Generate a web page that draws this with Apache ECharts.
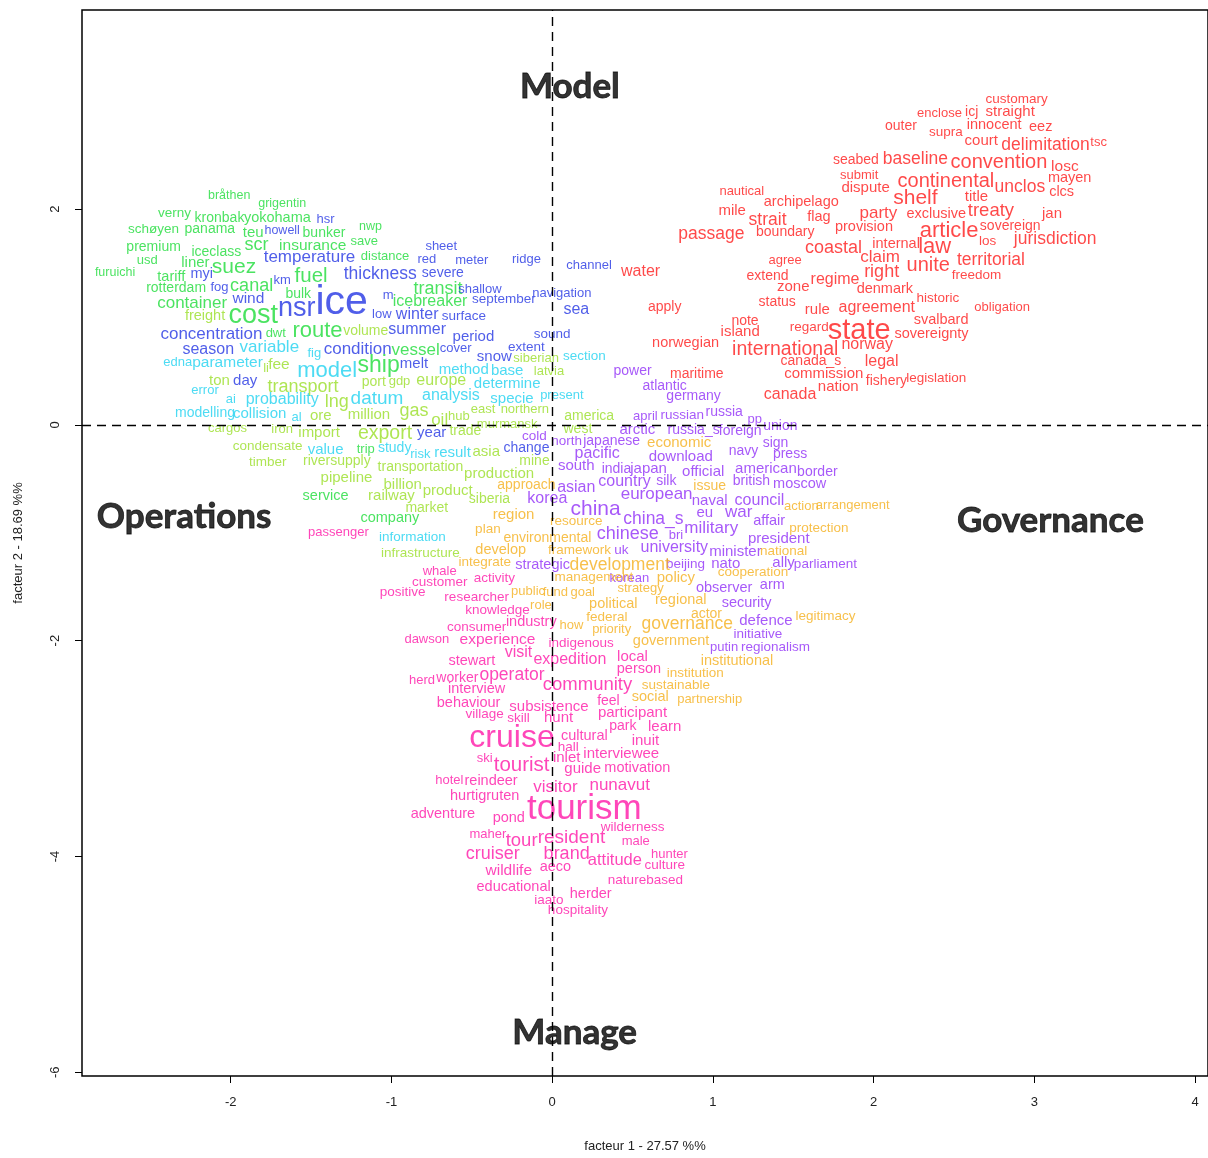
<!DOCTYPE html>
<html>
<head>
<meta charset="utf-8">
<script src="https://cdn.jsdelivr.net/npm/echarts@6/dist/echarts.min.js"></script>
<style>
html,body{margin:0;padding:0;background:#fff;overflow:hidden;}
#chart{width:1208px;height:1158px;}
</style>
</head>
<body>
<div id="chart"></div>
<script>
// ---- DATA: [word, factor1, factor2, weight] per cluster ----
const green = [
 ["bråthen",-2.01,2.13,12.5],["grigentin",-1.68,2.05,12.5],["verny",-2.35,1.96,13.5],["kronbak",-2.07,1.92,14],
 ["yokohama",-1.71,1.92,14.5],["nwp",-1.13,1.84,12.5],["schøyen",-2.48,1.81,13.5],["panama",-2.13,1.81,14],
 ["teu",-1.86,1.78,15],["bunker",-1.42,1.78,14],["save",-1.17,1.70,13],["premium",-2.48,1.65,14],
 ["iceclass",-2.09,1.60,14],["scr",-1.84,1.67,18],["insurance",-1.49,1.66,15.5],["usd",-2.52,1.52,13],
 ["liner",-2.22,1.50,15],["distance",-1.04,1.56,13],["furuichi",-2.72,1.41,12.5],["tariff",-2.37,1.37,14.5],
 ["suez",-1.98,1.46,21],["fuel",-1.50,1.38,20.5],["transit",-0.71,1.26,18],["rotterdam",-2.34,1.27,14],
 ["canal",-1.87,1.29,18],["bulk",-1.58,1.21,14],["icebreaker",-0.76,1.14,16],["container",-2.24,1.13,17],
 ["cost",-1.86,1.01,27],["dwt",-1.72,0.85,13],["route",-1.46,0.87,22],["vessel",-0.85,0.69,17],
 ["ship",-1.08,0.55,23],["trip",-1.16,-0.23,13],["service",-1.41,-0.66,14.5],["company",-1.01,-0.86,14.5]
];
const lime = [
 ["freight",-2.16,1.01,14.5],["volume",-1.16,0.87,14],["li",-1.78,0.52,13],["fee",-1.70,0.56,15.5],
 ["siberian",-0.10,0.62,13],["latvia",-0.02,0.50,13],["ton",-2.07,0.41,15],["transport",-1.55,0.35,18],
 ["port",-1.11,0.40,14],["gdp",-0.95,0.40,13],["europe",-0.69,0.41,16],["lng",-1.34,0.21,18],
 ["ore",-1.44,0.08,15],["million",-1.14,0.09,15],["gas",-0.86,0.13,18],["hub",-0.58,0.08,13],
 ["oil",-0.70,0.04,17],["east",-0.43,0.14,13],["northern",-0.17,0.14,13],["america",0.23,0.08,14],
 ["cargos",-2.02,-0.03,13],["iron",-1.68,-0.04,13],["import",-1.45,-0.07,15],["export",-1.04,-0.08,19.5],
 ["trade",-0.54,-0.06,14],["murmansk",-0.28,0.00,13],["west",0.16,-0.04,14],["condensate",-1.77,-0.20,13.5],
 ["timber",-1.77,-0.35,13.5],["riversupply",-1.34,-0.34,14],["transportation",-0.82,-0.39,14],["asia",-0.41,-0.25,15],
 ["mine",-0.11,-0.34,14],["pipeline",-1.28,-0.49,15],["production",-0.33,-0.45,15],["billion",-0.93,-0.56,15],
 ["product",-0.65,-0.61,15],["railway",-1.00,-0.66,15],["siberia",-0.39,-0.69,14],["market",-0.78,-0.77,14],
 ["infrastructure",-0.82,-1.19,13.5]
];
const cyan = [
 ["variable",-1.76,0.72,17],["fig",-1.48,0.66,13],["section",0.20,0.64,13.5],["edna",-2.33,0.58,13],
 ["parameter",-2.02,0.58,15.5],["model",-1.40,0.50,22],["method",-0.55,0.51,15],["base",-0.28,0.50,15],
 ["error",-2.16,0.32,13],["determine",-0.28,0.38,15],["ai",-2.00,0.24,13],["probability",-1.68,0.23,16],
 ["datum",-1.09,0.24,19],["analysis",-0.63,0.27,16],["specie",-0.25,0.24,15],["present",0.06,0.27,13],
 ["modelling",-2.16,0.11,14],["collision",-1.82,0.10,15],["al",-1.59,0.07,13],["value",-1.41,-0.23,15],
 ["study",-0.98,-0.22,14],["risk",-0.82,-0.27,13],["result",-0.62,-0.26,15],["information",-0.87,-1.04,13.5]
];
const blue = [
 ["hsr",-1.41,1.90,13],["howell",-1.68,1.80,12.5],["sheet",-0.69,1.65,13],["temperature",-1.51,1.55,17],
 ["red",-0.78,1.53,13],["meter",-0.50,1.52,13],["ridge",-0.16,1.53,13],["channel",0.23,1.48,13],
 ["myi",-2.18,1.40,14.5],["km",-1.68,1.34,13],["thickness",-1.07,1.40,17.5],["severe",-0.68,1.41,14],
 ["shallow",-0.45,1.26,13],["navigation",0.06,1.22,13],["fog",-2.07,1.27,13],["wind",-1.89,1.17,15.5],
 ["ice",-1.31,1.13,41],["m",-1.02,1.20,13],["september",-0.30,1.16,13.5],["sea",0.15,1.07,16],
 ["nsr",-1.59,1.08,27],["low",-1.06,1.02,13],["winter",-0.84,1.02,16],["surface",-0.55,1.01,13.5],
 ["concentration",-2.12,0.84,17],["summer",-0.84,0.88,16],["period",-0.49,0.82,15],["sound",0.00,0.84,13.5],
 ["season",-2.14,0.70,16],["condition",-1.21,0.70,17],["cover",-0.60,0.71,13],["extent",-0.16,0.72,13.5],
 ["melt",-0.86,0.57,15],["snow",-0.36,0.63,15],["day",-1.91,0.41,15],["year",-0.75,-0.07,15],
 ["change",-0.16,-0.22,14]
];
const purple = [
 ["power",0.50,0.50,14],["atlantic",0.70,0.36,14],["germany",0.88,0.27,14],["april",0.58,0.08,13],
 ["russian",0.81,0.09,13.5],["russia",1.07,0.12,14],["pp",1.26,0.05,13],["union",1.42,-0.01,14],
 ["arctic",0.53,-0.05,15],["russia_s",0.88,-0.05,14],["foreign",1.17,-0.06,14],["cold",-0.11,-0.11,13.5],
 ["north",0.09,-0.15,13.5],["japanese",0.37,-0.15,14],["sign",1.39,-0.17,14],["navy",1.19,-0.24,14],
 ["press",1.48,-0.27,14],["pacific",0.28,-0.27,16],["download",0.80,-0.30,15],["south",0.15,-0.38,15],
 ["india",0.40,-0.41,14],["japan",0.60,-0.41,15],["official",0.94,-0.44,15],["american",1.33,-0.41,15],
 ["border",1.65,-0.44,14],["country",0.45,-0.53,16],["silk",0.71,-0.52,14],["british",1.24,-0.52,14],
 ["moscow",1.54,-0.55,14.5],["asian",0.15,-0.58,16],["korea",-0.03,-0.68,16],["european",0.65,-0.64,17],
 ["naval",0.98,-0.70,15],["council",1.29,-0.70,16],["china",0.27,-0.78,21],["eu",0.95,-0.82,15],
 ["war",1.16,-0.81,17],["affair",1.35,-0.89,14.5],["china_s",0.63,-0.87,17.5],["military",0.99,-0.96,17],
 ["chinese",0.47,-1.01,18],["bri",0.77,-1.02,13],["president",1.41,-1.06,15],["uk",0.43,-1.16,13.5],
 ["university",0.76,-1.14,16],["minister",1.14,-1.18,15],["strategic",-0.06,-1.30,14.5],["beijing",0.83,-1.29,13.5],
 ["nato",1.08,-1.29,15],["ally",1.44,-1.28,15],["parliament",1.70,-1.29,13.5],["korean",0.48,-1.42,13],
 ["observer",1.07,-1.51,14.5],["arm",1.37,-1.48,14.5],["security",1.21,-1.65,14.5],["defence",1.33,-1.82,15],
 ["initiative",1.28,-1.94,13.5],["putin",1.07,-2.06,13],["regionalism",1.39,-2.06,13.5]
];
const orange = [
 ["economic",0.79,-0.17,15],["approach",-0.16,-0.56,14],["issue",0.98,-0.57,14],["action",1.55,-0.76,13],
 ["arrangement",1.87,-0.75,13],["region",-0.24,-0.83,15],["resource",0.15,-0.89,13.5],["protection",1.66,-0.96,13.5],
 ["plan",-0.40,-0.97,13.5],["environmental",-0.03,-1.05,14],["framework",0.17,-1.16,13.5],["national",1.44,-1.17,13.5],
 ["develop",-0.32,-1.16,14.5],["integrate",-0.42,-1.27,13.5],["development",0.42,-1.30,17.5],["management",0.26,-1.41,13.5],
 ["policy",0.77,-1.42,15],["cooperation",1.25,-1.37,13.5],["public",-0.15,-1.54,13],["fund",0.02,-1.55,13],
 ["goal",0.19,-1.55,13],["strategy",0.55,-1.52,13],["regional",0.80,-1.62,14.5],["role",-0.07,-1.67,13],
 ["political",0.38,-1.66,14.5],["actor",0.96,-1.75,14],["federal",0.34,-1.78,13.5],["legitimacy",1.70,-1.77,13.5],
 ["how",0.12,-1.86,13],["governance",0.84,-1.85,17.5],["priority",0.37,-1.90,13],["government",0.74,-2.00,14.5],
 ["institutional",1.15,-2.19,14.5],["institution",0.89,-2.30,13.5],["sustainable",0.77,-2.41,13.5],["social",0.61,-2.52,14.5],
 ["partnership",0.98,-2.54,13]
];
const pink = [
 ["passenger",-1.33,-1.00,13],["whale",-0.70,-1.36,13],["activity",-0.36,-1.42,13.5],["customer",-0.70,-1.46,13.5],
 ["positive",-0.93,-1.55,13.5],["researcher",-0.47,-1.60,13.5],["knowledge",-0.34,-1.72,13.5],["industry",-0.13,-1.83,14.5],
 ["consumer",-0.47,-1.88,13.5],["dawson",-0.78,-1.99,13],["experience",-0.34,-1.99,15.5],["indigenous",0.18,-2.02,13.5],
 ["visit",-0.21,-2.11,16],["stewart",-0.50,-2.19,14.5],["expedition",0.11,-2.18,16],["local",0.50,-2.15,15],
 ["person",0.54,-2.26,14.5],["herd",-0.81,-2.37,13],["worker",-0.59,-2.35,14],["operator",-0.25,-2.32,17.5],
 ["community",0.22,-2.41,18.5],["interview",-0.47,-2.45,14.5],["feel",0.35,-2.56,14],["behaviour",-0.52,-2.58,14.5],
 ["subsistence",-0.02,-2.61,15],["village",-0.42,-2.68,13.5],["skill",-0.21,-2.72,13.5],["hunt",0.04,-2.72,15],
 ["participant",0.50,-2.67,15],["park",0.44,-2.79,14],["learn",0.70,-2.80,15],["cruise",-0.25,-2.90,32],
 ["cultural",0.20,-2.88,14.5],["inuit",0.58,-2.93,15],["hall",0.10,-2.99,13.5],["ski",-0.42,-3.09,13],
 ["inlet",0.09,-3.09,15],["interviewee",0.43,-3.05,15],["tourist",-0.19,-3.16,20.5],["guide",0.19,-3.19,15],
 ["motivation",0.53,-3.18,14.5],["hotel",-0.64,-3.30,13],["reindeer",-0.38,-3.30,14.5],["visitor",0.02,-3.36,17],
 ["nunavut",0.42,-3.34,17],["hurtigruten",-0.42,-3.44,14.5],["tourism",0.20,-3.56,35],["adventure",-0.68,-3.61,14.5],
 ["pond",-0.27,-3.64,14.5],["wilderness",0.50,-3.73,13.5],["maher",-0.40,-3.80,13],["tour",-0.19,-3.86,18.5],
 ["resident",0.12,-3.83,19],["male",0.52,-3.86,13],["hunter",0.73,-3.98,13],["cruiser",-0.37,-3.98,18],
 ["brand",0.09,-3.98,18],["attitude",0.39,-4.04,16.5],["culture",0.70,-4.08,13.5],["wildlife",-0.27,-4.13,15.5],
 ["aeco",0.02,-4.10,14.5],["naturebased",0.58,-4.22,13.5],["educational",-0.24,-4.28,14.5],["herder",0.24,-4.35,14.5],
 ["iaato",-0.02,-4.41,13.5],["hospitality",0.16,-4.50,13.5]
];
const red = [
 ["customary",2.89,3.02,13.5],["enclose",2.41,2.89,13],["icj",2.61,2.90,14],["straight",2.85,2.90,15],
 ["outer",2.17,2.77,14],["supra",2.45,2.71,13.5],["innocent",2.75,2.78,14.5],["eez",3.04,2.76,14.5],
 ["court",2.67,2.63,15],["delimitation",3.07,2.59,17.5],["tsc",3.40,2.62,13],["seabed",1.89,2.45,14],
 ["baseline",2.26,2.46,17.5],["convention",2.78,2.43,20],["losc",3.19,2.39,15.5],["submit",1.91,2.31,13],
 ["mayen",3.22,2.29,14.5],["dispute",1.95,2.20,15],["continental",2.45,2.26,20],["unclos",2.91,2.20,17.5],
 ["clcs",3.17,2.16,14.5],["nautical",1.18,2.16,13],["archipelago",1.55,2.07,14.5],["shelf",2.26,2.10,21],
 ["title",2.64,2.11,15],["mile",1.12,1.98,15],["strait",1.34,1.90,17.5],["flag",1.66,1.93,14.5],
 ["party",2.03,1.96,17],["exclusive",2.39,1.95,14.5],["treaty",2.73,1.98,18.5],["jan",3.11,1.96,15],
 ["passage",0.99,1.77,17.5],["boundary",1.45,1.79,14],["provision",1.94,1.83,14.5],["article",2.47,1.80,22],
 ["sovereign",2.85,1.84,14],["coastal",1.75,1.64,18],["internal",2.14,1.68,14.5],["law",2.38,1.65,22],
 ["los",2.71,1.70,13.5],["jurisdiction",3.13,1.72,17.5],["agree",1.45,1.52,13],["claim",2.04,1.55,17],
 ["unite",2.34,1.48,20],["territorial",2.73,1.53,17.5],["extend",1.34,1.38,14],["regime",1.76,1.35,16],
 ["right",2.05,1.42,18],["freedom",2.64,1.39,13.5],["zone",1.50,1.28,15],["denmark",2.07,1.26,14.5],
 ["historic",2.40,1.17,13.5],["status",1.40,1.14,14],["rule",1.65,1.07,15],["agreement",2.02,1.09,16],
 ["obligation",2.80,1.09,13],["note",1.20,0.96,14],["svalbard",2.42,0.97,14.5],["island",1.17,0.86,15],
 ["regard",1.60,0.90,13.5],["state",1.91,0.87,29],["sovereignty",2.36,0.84,14.5],["water",0.55,1.42,16],
 ["apply",0.70,1.09,14],["norwegian",0.83,0.76,14.5],["international",1.45,0.70,19.5],["norway",1.96,0.74,16],
 ["canada_s",1.61,0.59,14],["legal",2.05,0.59,16],["maritime",0.90,0.47,14],["commission",1.69,0.47,15],
 ["fishery",2.08,0.41,14],["legislation",2.39,0.43,13.5],["nation",1.78,0.35,15],["canada",1.48,0.28,16]
];
const quadrants = [["Model",0.11,3.13],["Operations",-2.29,-0.85],["Governance",3.10,-0.89],["Manage",0.14,-5.63]];
const xTicks = [-2,-1,0,1,2,3,4];
const yTicks = [-6,-4,-2,0,2];
const xTitle = "facteur 1 - 27.57 %%";
const yTitle = "facteur 2 - 18.69 %%";

// ---- STYLE ----
const FONT = "'Liberation Sans', Arial, sans-serif";
const clusters = [
  [red, '#ff1c1c'], [purple, '#9130f8'], [orange, '#f5b01e'], [pink, '#ff18a8'],
  [green, '#1edc3a'], [lime, '#9ade28'], [cyan, '#20d2f0'], [blue, '#2436e4']
];
const HIDDEN = { color: 'rgba(0,0,0,0)', borderWidth: 0 };

function wordSeries(rows, color) {
  return {
    type: 'scatter', silent: true, symbolSize: 1, itemStyle: HIDDEN, z: 3,
    data: rows.map(r => ({ name: r[0], value: [r[1], r[2]], label: { fontSize: r[3] } })),
    label: { show: true, position: 'inside', formatter: p => p.name, color: color, fontFamily: FONT }
  };
}

const series = clusters.map(c => wordSeries(c[0], c[1]));
series.push({
  type: 'scatter', silent: true, symbolSize: 1, itemStyle: HIDDEN, z: 4,
  data: quadrants.map(q => ({ name: q[0], value: [q[1], q[2]] })),
  label: { show: true, position: 'inside', formatter: p => p.name, color: '#000',
           fontFamily: "Lato, 'Open Sans', sans-serif", fontWeight: 'bold', fontSize: 35,
           textBorderColor: '#000', textBorderWidth: 0.8 },
  markLine: {
    silent: true, symbol: 'none', label: { show: false },
    lineStyle: { color: '#000', type: [9, 6], width: 1.4 },
    data: [{ xAxis: 0 }, { yAxis: 0 }]
  }
});

const chart = echarts.init(document.getElementById('chart'), null, { renderer: 'canvas' });
chart.setOption({
  animation: false,
  backgroundColor: '#fff',
  grid: { left: 82, top: 10, width: 1128, height: 1086, show: true, borderColor: '#000', borderWidth: 1.5, backgroundColor: 'transparent' },
  xAxis: {
    type: 'value', min: -2.9255, max: 4.0807,
    axisLine: { show: false, onZero: false }, splitLine: { show: false },
    axisTick: { show: true, customValues: xTicks, length: 7, lineStyle: { color: '#000' } },
    axisLabel: { customValues: xTicks, color: '#222', fontSize: 13, fontFamily: FONT, margin: 20 },
    name: xTitle, nameLocation: 'middle', nameGap: 64,
    nameTextStyle: { color: '#222', fontSize: 13, fontFamily: FONT }
  },
  yAxis: {
    type: 'value', min: -6.035, max: 3.8454,
    axisLine: { show: false, onZero: false }, splitLine: { show: false },
    axisTick: { show: true, customValues: yTicks, length: 7, lineStyle: { color: '#000' } },
    axisLabel: { customValues: yTicks, color: '#222', fontSize: 13, fontFamily: FONT, margin: 20, rotate: 90 },
    name: yTitle, nameLocation: 'middle', nameGap: 57, nameRotate: 90,
    nameTextStyle: { color: '#222', fontSize: 13, fontFamily: FONT }
  },
  series: series
});
</script>
</body>
</html>
